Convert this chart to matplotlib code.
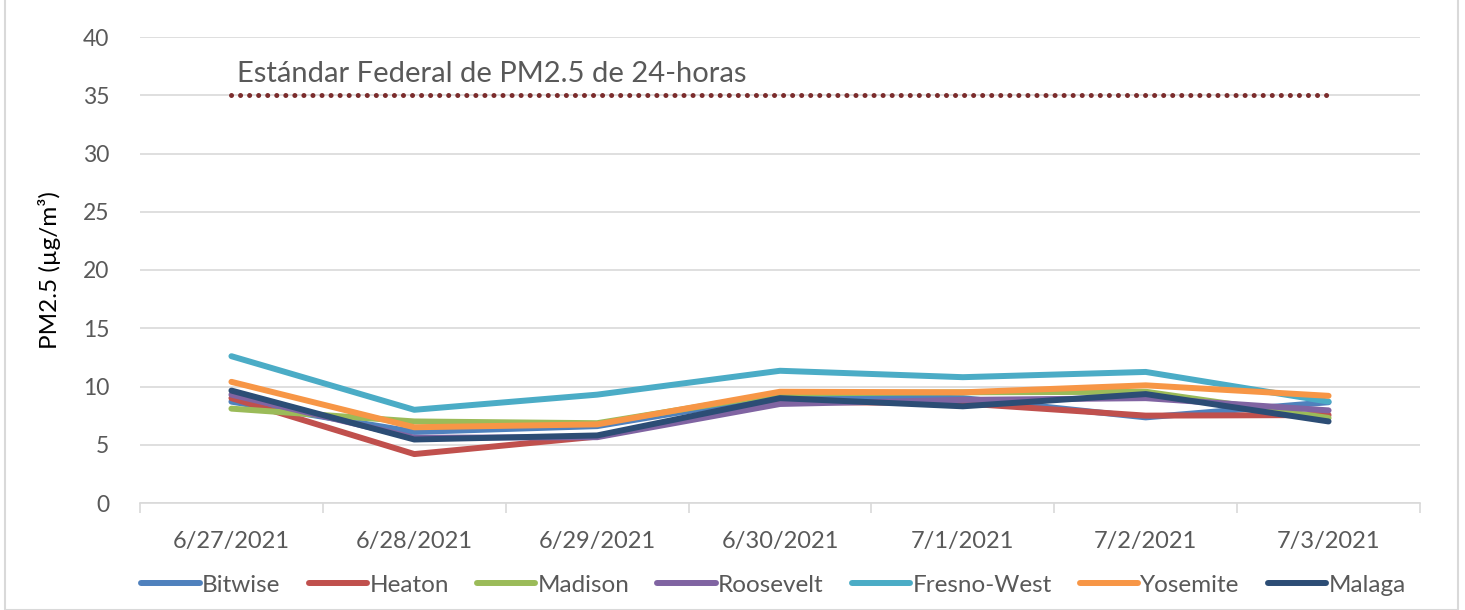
import numpy as np
import matplotlib
matplotlib.use('Agg')
import matplotlib.pyplot as plt
from matplotlib.patches import Rectangle

plt.rcParams['font.family'] = ['Lato', 'DejaVu Sans']

dates = ['6/27/2021', '6/28/2021', '6/29/2021', '6/30/2021',
         '7/1/2021', '7/2/2021', '7/3/2021']

bitwise = [8.7, 6.1, 6.6, 9.2, 9.0, 7.35, 8.65]
heaton = [9.0, 4.2, 5.7, 8.7, 8.55, 7.5, 7.55]
madison = [8.1, 7.0, 6.85, 9.4, 9.5, 9.55, 7.3]
roosevelt = [9.3, 5.6, 5.65, 8.5, 8.85, 9.0, 7.95]
fresno_west = [12.6, 8.0, 9.3, 11.35, 10.8, 11.25, 8.7]
yosemite = [10.4, 6.5, 6.75, 9.55, 9.5, 10.1, 9.2]
malaga = [9.65, 5.45, 5.8, 9.0, 8.3, 9.35, 7.0]

standard = 35
standard_label = 'Estándar Federal de PM2.5 de 24-horas'

series = [('Bitwise', bitwise, '#4F81BD'),
          ('Heaton', heaton, '#C0504D'),
          ('Madison', madison, '#9BBB59'),
          ('Roosevelt', roosevelt, '#8064A2'),
          ('Fresno-West', fresno_west, '#4BACC6'),
          ('Yosemite', yosemite, '#F79646'),
          ('Malaga', malaga, '#2C4D75')]

fig = plt.figure(figsize=(14.65, 6.10), dpi=100)
ax = fig.add_axes([140 / 1465, 1 - 503 / 610, 1280 / 1465, 466 / 610])

x = np.arange(len(dates))
for name, vals, col in series:
    ax.plot(x, vals, color=col, linewidth=4.3, label=name,
            solid_capstyle='round', solid_joinstyle='round')

ax.plot(x, [standard] * len(x), color='#7B2C2C', linewidth=3.6,
        linestyle=(0, (0.01, 1.8)), dash_capstyle='round')
ax.text(0.03, 36.85, standard_label, fontsize=21, color='#595959',
        va='center', ha='left')

ax.set_xlim(-0.5, len(dates) - 0.5)
ax.set_ylim(0, 40)
ax.set_yticks(range(0, 41, 5))
ax.set_xticks(x)
ax.set_xticklabels(dates)
ax.set_xticks(np.arange(-0.5, len(dates), 1), minor=True)
ax.yaxis.grid(True, color='#D9D9D9', linewidth=1.2)
ax.set_axisbelow(True)
for s in ['top', 'right', 'left']:
    ax.spines[s].set_visible(False)
ax.spines['bottom'].set_color('#D9D9D9')
ax.spines['bottom'].set_linewidth(1.2)
ax.tick_params(axis='y', length=0, labelsize=16.5, labelcolor='#595959', pad=22)
ax.tick_params(axis='x', which='major', length=0, labelsize=17,
               labelcolor='#595959', pad=20)
ax.tick_params(axis='x', which='minor', length=7, color='#D9D9D9', width=1.2)
ax.set_ylabel('PM2.5 (µg/m³)', fontsize=17.5, color='black', labelpad=16)

ax.legend(loc='upper center', bbox_to_anchor=(0.495, -0.133), ncol=7,
          frameon=False, fontsize=17.5, handlelength=2.4, handletextpad=0.1,
          columnspacing=1.15, labelcolor='#595959', borderaxespad=0)

fig.patches.append(Rectangle((5 / 1465, 0), 1453 / 1465, 1.2,
                             transform=fig.transFigure, fill=False,
                             edgecolor='#D9D9D9', linewidth=1.5))

fig.savefig('out.png', dpi=100)
